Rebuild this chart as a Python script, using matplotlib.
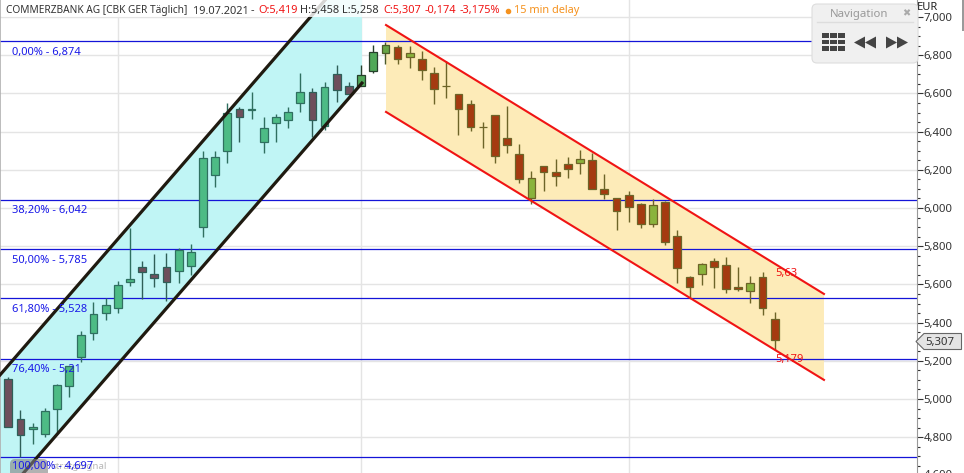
import matplotlib
matplotlib.use("Agg")
import matplotlib.pyplot as plt
from matplotlib.patches import FancyBboxPatch, Polygon, Rectangle
from matplotlib.ticker import FixedLocator, FuncFormatter

W, H = 964, 473
plt.rcParams['font.family'] = ['Noto Sans', 'DejaVu Sans']

# candles: high, body top, body bottom, low
highs = [5.114, 4.943, 4.873, 4.951, 5.079, 5.171, 5.355, 5.506, 5.527, 5.616, 5.894, 5.721, 5.760, 5.765, 5.790, 5.810,
         6.298, 6.298, 6.548, 6.527, 6.607, 6.475, 6.490, 6.527, 6.705, 6.627, 6.658, 6.747, 6.658, 6.747, 6.852, 6.867,
         6.852, 6.846, 6.820, 6.736, 6.768, 6.595, 6.565, 6.452, 6.485, 6.532, 6.333, 6.192, 6.220, 6.257, 6.265, 6.304,
         6.290, 6.176, 6.051, 6.087, 6.024, 6.047, 6.037, 5.883, 5.642, 5.710, 5.736, 5.742, 5.689, 5.642, 5.663, 5.458]
tops = [5.103, 4.894, 4.852, 4.936, 5.072, 5.171, 5.334, 5.444, 5.491, 5.595, 5.629, 5.690, 5.653, 5.690, 5.782, 5.768,
        6.260, 6.265, 6.496, 6.517, 6.517, 6.417, 6.475, 6.501, 6.606, 6.606, 6.632, 6.700, 6.637, 6.695, 6.815, 6.852,
        6.841, 6.810, 6.778, 6.705, 6.637, 6.595, 6.543, 6.426, 6.485, 6.365, 6.281, 6.155, 6.218, 6.187, 6.229, 6.255,
        6.250, 6.098, 6.051, 6.066, 6.019, 6.014, 6.030, 5.852, 5.637, 5.705, 5.721, 5.700, 5.585, 5.606, 5.637, 5.419]
bottoms = [4.855, 4.814, 4.845, 4.819, 4.950, 5.070, 5.222, 5.348, 5.452, 5.479, 5.615, 5.667, 5.636, 5.615, 5.669, 5.698,
           5.902, 6.171, 6.300, 6.478, 6.511, 6.347, 6.447, 6.459, 6.548, 6.459, 6.428, 6.616, 6.595, 6.637, 6.716, 6.810,
           6.778, 6.789, 6.721, 6.621, 6.637, 6.517, 6.426, 6.426, 6.271, 6.328, 6.150, 6.054, 6.187, 6.166, 6.206, 6.237,
           6.098, 6.072, 5.983, 6.003, 5.914, 5.914, 5.824, 5.688, 5.588, 5.656, 5.693, 5.578, 5.578, 5.567, 5.478, 5.307]
lows = [4.855, 4.698, 4.765, 4.801, 4.829, 5.011, 5.192, 5.309, 5.414, 5.451, 5.592, 5.522, 5.587, 5.515, 5.608, 5.650,
        5.848, 6.112, 6.237, 6.347, 6.468, 6.290, 6.347, 6.421, 6.504, 6.373, 6.408, 6.555, 6.595, 6.637, 6.705, 6.752,
        6.752, 6.735, 6.668, 6.546, 6.578, 6.384, 6.405, 6.316, 6.237, 6.290, 6.133, 6.023, 6.091, 6.117, 6.159, 6.180,
        6.098, 6.049, 5.887, 5.928, 5.897, 5.902, 5.808, 5.609, 5.536, 5.599, 5.583, 5.557, 5.567, 5.504, 5.441, 5.258]
# u = up day, d = down day
direction = "dduuuuuu" "uuuddduu" "uuuduuuu" "ududduuu" "dudddddd" "dddudddu" "dddddudd" "dudddudd"

fib_levels = [6.874, 6.042, 5.785, 5.528, 5.21, 4.697]
fib_labels = ["0,00% - 6,874", "38,20% - 6,042", "50,00% - 5,785", "61,80% - 5,528", "76,40% - 5,21", "100,00% - 4,697"]

up_x = [-0.68, 27.68]
up_y = [5.126, 7.209]
up_low_x = [0.75, 29.07]
up_low_y = [4.576, 6.654]
down_x = [31.05, 67.05]
down_top = [6.958, 5.55]
down_bottom = [6.503, 5.10]

grid_days = [9, 29, 51]
price_ticks = [round(4.6 + 0.2 * i, 1) for i in range(13)]
minor_ticks = [round(4.6 + 0.05 * i, 2) for i in range(49)]

green = "#4dbb85"
maroon = "#6e4f5c"
brick = "#a53a10"
olive = "#8ab33c"


def body_colors(i):
    if i < 29:
        return (green, "#2f6f60") if direction[i] == "u" else (maroon, "#2f5f58")
    if i < 31:
        return ("#50a858", "#27402c")
    if i == 31:
        return ("#68a546", "#4a5a2a")
    return (olive, "#6d6428") if direction[i] == "u" else (brick, "#6d6428")


fig = plt.figure(figsize=(W / 100, H / 100), dpi=100)
ax = fig.add_axes([0, 0, 916.5 / W, 1])
ax.set_xlim((0 - 8.3) / 12.165, (916.5 - 8.3) / 12.165)
ax.set_ylim(7 - (H - 17) / 191, 7 + 17 / 191)
ax.yaxis.tick_right()
ax.xaxis.set_visible(False)
ax.spines['top'].set_visible(False)
ax.spines['bottom'].set_visible(False)
ax.spines['left'].set_color("#b0b0b0")
ax.spines['left'].set_linewidth(1.2)
ax.spines['right'].set_color("#999999")
ax.spines['right'].set_linewidth(0.8)

ax.yaxis.set_major_locator(FixedLocator(price_ticks))
ax.yaxis.set_minor_locator(FixedLocator(minor_ticks))
ax.yaxis.set_major_formatter(FuncFormatter(lambda v, p: f"{v:.3f}".replace(".", ",")))
ax.tick_params(axis='y', which='major', length=4.2, width=0.8, color="#333333", labelsize=8.2, labelcolor="#333333", pad=1)
ax.tick_params(axis='y', which='minor', length=2.2, width=0.8, color="#333333")
ax.grid(axis='y', which='major', color="#e4e4e4", lw=1, zorder=0)
ax.set_axisbelow(True)
for d in grid_days:
    ax.axvline(d, color="#e4e4e4", lw=1, zorder=0)

# channels
ax.fill([up_x[0], up_x[1], up_low_x[1], up_low_x[1], up_low_x[0], up_x[0]],
        [up_y[0], up_y[1], up_y[1], up_low_y[1], up_low_y[0], up_low_y[0]],
        color="#c0f5f5", lw=0, zorder=1)
ax.fill([down_x[0], down_x[1], down_x[1], down_x[0]],
        [down_top[0], down_top[1], down_bottom[1], down_bottom[0]],
        color="#fdebb8", lw=0, zorder=1)

for lvl in fib_levels:
    ax.axhline(lvl, color="#1414d8", lw=0.9, zorder=2)

# candles
for i in range(len(highs)):
    fc, ec = body_colors(i)
    ax.plot([i, i], [lows[i], highs[i]], color=ec, lw=1.0, zorder=3, solid_capstyle='butt')
    ax.bar(i, tops[i] - bottoms[i], bottom=bottoms[i], width=0.64, color=fc, edgecolor=ec, linewidth=0.9, zorder=4)

ax.plot(up_x, up_y, color="#1f1a10", lw=2.3, zorder=5)
ax.plot(up_low_x, up_low_y, color="#1f1a10", lw=2.3, zorder=5)
ax.plot(down_x, down_top, color="#f01414", lw=1.5, zorder=5)
ax.plot(down_x, down_bottom, color="#f01414", lw=1.5, zorder=5)

for lvl, lab in zip(fib_levels[:-1], fib_labels[:-1]):
    ax.annotate(lab, (0, lvl), xycoords=('axes fraction', 'data'), xytext=(12, -11), textcoords='offset pixels',
                color="#1a1ae8", fontsize=8, va='center', zorder=7)
ax.text(63.04, 5.63, "5,63", color="#f01414", fontsize=8, va='bottom', zorder=7)
ax.text(63.04, 5.179, "5,179", color="#f01414", fontsize=8, va='bottom', zorder=7)

# pixel overlay for the window furniture
ov = fig.add_axes([0, 0, 1, 1], zorder=10)
ov.set_xlim(0, W)
ov.set_ylim(H, 0)
ov.axis('off')
ov.patch.set_alpha(0)

ov.add_patch(Rectangle((2, 0), 578, 17, color="white", alpha=0.82, lw=0))
ov.text(6.5, 11, "COMMERZBANK AG [CBK GER Täglich]", color="#333333", fontsize=7.3, va='center')
header = [(192.5, "19.07.2021", "#333333"), (251, "-", "#333333"),
          (258, "O:5,419", "#f01414"), (300, "H:5,458", "#333333"), (342, "L:5,258", "#333333"),
          (383, "C:5,307", "#f01414"), (425, "-0,174", "#f01414"), (460, "-3,175%", "#f01414"),
          (514, "15 min delay", "#f5921e")]
for x, s, c in header:
    ov.text(x, 11, s, color=c, fontsize=7.9, va='center')
ov.plot([508], [11.5], 'o', color="#f5921e", ms=3)

# watermark
ov.add_patch(FancyBboxPatch((10, 459), 38, 18, boxstyle="round,pad=0,rounding_size=5", color="#808080", alpha=0.6, lw=0))
ov.text(52, 466, "stratgSignal", color="#b8b8b8", fontsize=7, fontweight='bold', va='center')
ov.text(12, 466, fib_labels[-1], color="#1a1ae8", fontsize=8, va='center')

# EUR + navigation panel
ov.text(917, 7, "EUR", color="#222222", fontsize=8, va='center')
ov.text(924, 475.5, "4,600", color="#333333", fontsize=8.2, va='center')
ov.add_patch(FancyBboxPatch((812, 4), 106, 59, boxstyle="round,pad=0,rounding_size=5", fc="#f0f0f0", ec="#dddddd", lw=0.8))
ov.text(830, 14, "Navigation", color="#999999", fontsize=8.2, va='center')
ov.text(906, 13.5, "✖", color="#aaaaaa", fontsize=7, va='center', ha='center', family=['DejaVu Sans'])
ov.plot([817, 913], [22.5, 22.5], color="#dddddd", lw=1)
for col in range(3):
    for row in range(3):
        ov.add_patch(Rectangle((822 + col * 8, 33.5 + row * 6.3), 6.5, 4.7, color="#444444", lw=0))
for tri in ([(854, 42.5), (865, 36.5), (865, 48.5)], [(865, 42.5), (876, 36.5), (876, 48.5)],
            [(886, 36.5), (897, 42.5), (886, 48.5)], [(897, 36.5), (908, 42.5), (897, 48.5)]):
    ov.add_patch(Polygon(tri, color="#444444", lw=0))

# scrollbar and last price box
ov.add_patch(Rectangle((961.5, 0), 2.5, 31, color="#9a9a9a", lw=0))
ov.add_patch(Polygon([(916, 341.5), (924, 333.5), (961.5, 333.5), (961.5, 349.5), (924, 349.5)],
                     fc="#e4e4e4", ec="#666666", lw=0.8))
ov.text(925, 342, "5,307", color="#333333", fontsize=8.2, va='center')

fig.savefig("out.png", dpi=100)
